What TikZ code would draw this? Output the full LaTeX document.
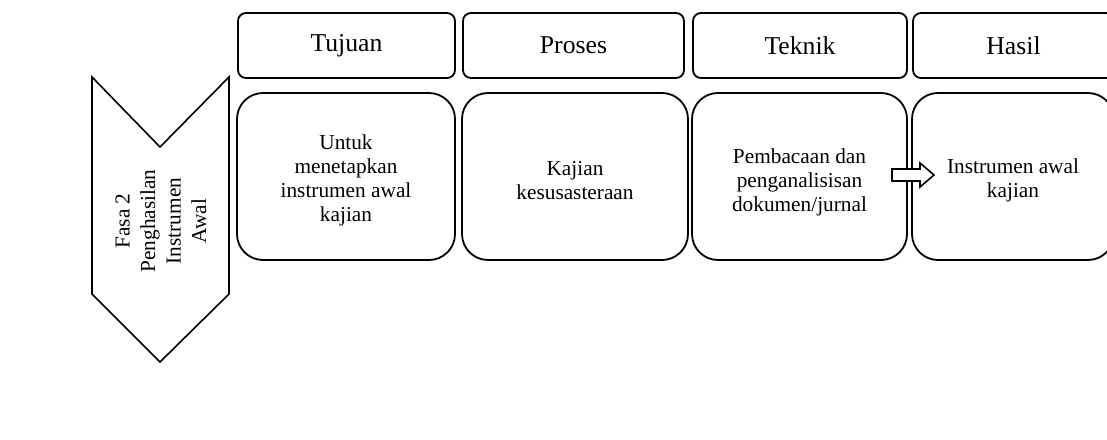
\documentclass[tikz,border=0pt]{standalone}
\usepackage{fontspec}
\setmainfont{Liberation Serif}

\begin{document}
\begin{tikzpicture}[
        % pixel grid, y downwards
        x=1pt, y=-1pt,
        header/.style={draw, line width=1.8pt, rounded corners=8pt, minimum height=65pt, inner sep=0pt, font=\fontsize{25.7}{28}\selectfont},
        bodybox/.style={draw, line width=1.8pt, rounded corners=26pt, minimum height=167pt, inner sep=0pt},
        bodytext/.style={align=center, inner sep=0pt, font=\fontsize{21.3}{23.8}\selectfont},
        phase/.style={draw, line width=1.6pt, line join=miter},
        phasetext/.style={rotate=90, align=center, font=\fontsize{21.3}{25.5}\selectfont},
        blockarrow/.style={draw, fill=white, line width=1.6pt, line join=miter}
    ]

        % --- parameters ---
        \def\hdrY{45.5}     % header row centre
        \def\bodyY{176.5}   % body row centre
        \def\txtDrop{-4pt}  % body text sits a little low

        \useasboundingbox (0,0) rectangle (1107,439);
        \clip (0,0) rectangle (1107,439);

        % --- 1. phase chevron ---
        \draw[phase] (92,77) -- (160,147) -- (229,77) -- (229,294) -- (160,362) -- (92,294) -- cycle;
        \node[phasetext] (fasa) at (161,221) {Fasa 2\\Penghasilan\\Instrumen\\Awal};

        % --- 2. header row ---
        \node[header, minimum width=217pt] (hTujuan) at (346.5,\hdrY) {Tujuan};
        \node[header, minimum width=221pt] (hProses) at (573.5,\hdrY) {Proses};
        \node[header, minimum width=214pt] (hTeknik) at (800,\hdrY) {Teknik};
        \node[header, minimum width=201pt] (hHasil) at (1013.5,\hdrY) {Hasil};

        % --- 3. body row ---
        \node[bodybox, minimum width=218pt] (bTujuan) at (346,\bodyY) {};
        \node[bodybox, minimum width=226pt] (bProses) at (575,\bodyY) {};
        \node[bodybox, minimum width=215pt] (bTeknik) at (799.5,\bodyY) {};
        \node[bodybox, minimum width=202pt] (bHasil) at (1013,\bodyY) {};

        \node[bodytext] (tTujuan) at ([yshift=\txtDrop]bTujuan.center) {Untuk\\menetapkan\\instrumen awal\\kajian};
        \node[bodytext] (tProses) at ([yshift=\txtDrop]bProses.center) {Kajian\\kesusasteraan};
        \node[bodytext] (tTeknik) at ([yshift=-6pt]bTeknik.center) {Pembacaan dan\\penganalisisan\\dokumen/jurnal};
        \node[bodytext] (tHasil) at ([yshift=\txtDrop]bHasil.center) {Instrumen awal\\kajian};

        % --- 4. block arrow Teknik -> Hasil ---
        \coordinate (panah) at (892,175);
        \draw[blockarrow] (panah) ++(0,-6) -- ++(28,0) -- ++(0,-6) -- ++(14,12) -- ++(-14,12) -- ++(0,-6) -- ++(-28,0) -- cycle;

    \end{tikzpicture}
\end{document}
